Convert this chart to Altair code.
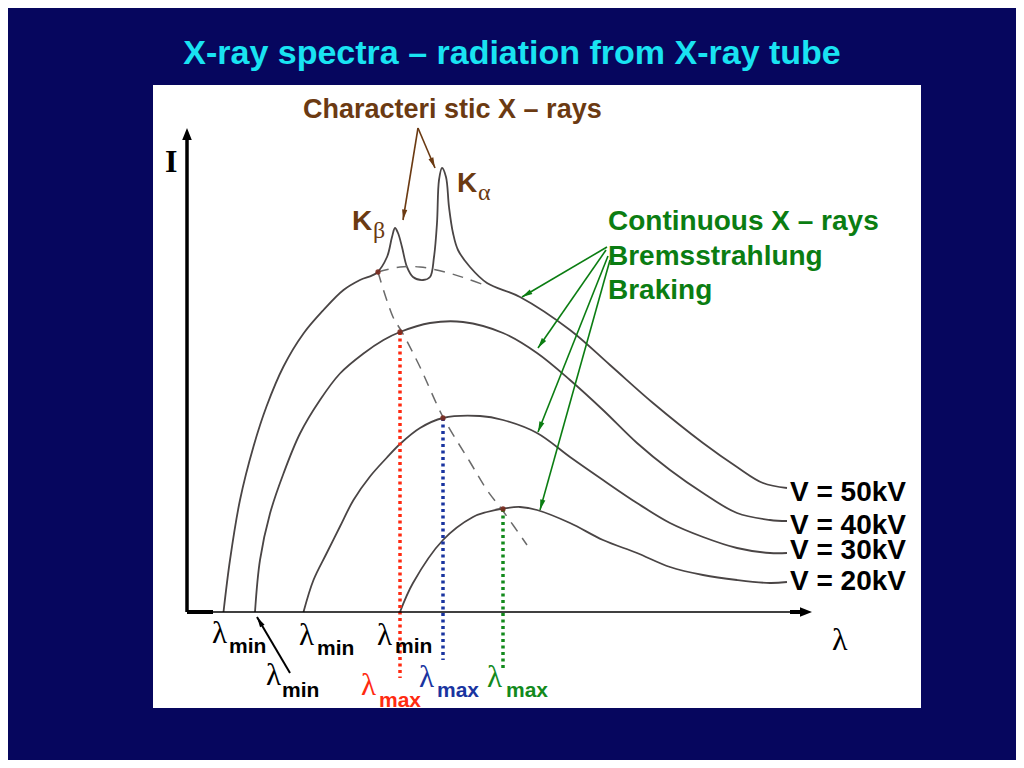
import math
import altair as alt
import pandas as pd

# ---------------- values (wavelength λ vs intensity I, arbitrary units) -------------
wl_50 = [7.3, 8.6, 10.6, 13.3, 15.9, 19.3, 23.3, 27.3, 31.3, 34.6, 37.9,
         40, 41, 41.6, 42.2, 43, 44, 45.2, 47.2, 48.6, 49.4,
         50, 50.4, 51, 51.8, 52.4, 53.2, 54.2, 56.6, 60,
         66.6, 76.6, 84.6, 93.2, 103.2, 110, 115.2, 120]
I_50 = [0, 10.4, 22.4, 33.1, 41.1, 49.1, 55.7, 60.4, 64.4, 66.4, 67.8,
        71, 75, 76.8, 75.8, 73, 69, 67, 66.4, 67, 71,
        77.8, 86.4, 88.8, 87, 81, 75.8, 72.4, 69, 65.8,
        63, 56.4, 49.4, 41.8, 33.8, 29, 25.8, 24.8]

wl_40 = [13.6, 14.6, 16.6, 19.3, 22.6, 26.6, 30.6, 35.3, 39.3, 42.6, 48.6, 55.2,
         63.2, 70, 76.6, 83.2, 90, 96.6, 103.2, 110, 116.6, 120]
I_40 = [0, 10.4, 19.7, 27.7, 35.7, 42.4, 47.7, 51.7, 54.4, 56, 57.8, 58,
        55.8, 51.8, 46.4, 40.4, 33.8, 28.4, 23.8, 19.8, 18.4, 18.2]

wl_30 = [23.3, 25.3, 27.9, 30.6, 33.3, 36.6, 39.9, 42.6, 46.6, 51.2, 58.6, 63.2,
         70, 76.6, 83.2, 90, 96.6, 103.2, 110, 116.6, 120]
I_30 = [0, 6.4, 11.7, 17.1, 22.4, 27.1, 30.8, 33.6, 36.8, 38.8, 39.2, 38.4,
        35.8, 31, 26.4, 21.8, 17.8, 15, 12.8, 11.8, 11.8]

wl_20 = [42.6, 45.2, 51.2, 57.2, 60, 63.2, 66.6, 70, 76.6, 83.2, 90, 96.6, 103.2, 110, 116.6, 120]
I_20 = [0, 5.8, 14.4, 19, 20, 20.7, 21, 20.4, 17.8, 14.4, 11.8, 9, 7.4, 6.4, 5.8, 6]

series_names = ["V = 50kV", "V = 40kV", "V = 30kV", "V = 20kV"]

# locus of the maxima and the continuum under the K lines (dashed)
locus_wl = [38.2, 41.2, 43, 46.6, 51.2, 56.6, 60, 63.2, 68]
locus_I = [68, 59, 56, 49, 39, 30, 24.4, 20.2, 13.4]
under_wl = [38.2, 42.6, 46.6, 51.6, 55.6, 60]
under_I = [68, 69, 69, 68, 66.8, 65.2]

# λmax positions and peak intensities (40, 30, 20 kV)
lmax_wl = [42.6, 51.2, 63.2]
lmax_I = [56, 38.8, 20.6]

# ---------------- layout / styles ----------------
XD = [-35.8, 165.8]
YD = [-29.6, 120.8]
BG = "#06065e"
CURVE = "#4a4545"
BROWN = "#6b3a12"
GREEN = "#0b7d12"
RED = "#ff2a10"
BLUE = "#1a34a0"
DGREEN = "#138a1c"
CYAN = "#19e3f2"
ARROW = "M0,0L-0.5,2L0.5,2Z"
BIGARROW = "M0,0L-0.8,2L0.8,2Z"

xs = alt.Scale(domain=XD, nice=False, zero=False)
ys = alt.Scale(domain=YD, nice=False, zero=False)


def enc(**kw):
    e = dict(x=alt.X("x:Q", scale=xs, axis=None), y=alt.Y("y:Q", scale=ys, axis=None))
    e.update(kw)
    return e


layers = []

# white panel
panel = pd.DataFrame({"x": [-6.8], "x2": [146.8], "y": [-19.2], "y2": [105.4]})
layers.append(alt.Chart(panel).mark_rect(color="white").encode(**enc(x2="x2", y2="y2")))

# spectra
rows = []
for name, wl, inten in zip(series_names, [wl_50, wl_40, wl_30, wl_20], [I_50, I_40, I_30, I_20]):
    for a, b in zip(wl, inten):
        rows.append({"s": name, "x": a, "y": b})
curves = pd.DataFrame(rows)
layers.append(alt.Chart(curves).mark_line(interpolate="catmull-rom", color=CURVE, strokeWidth=1.8)
              .encode(**enc(detail="s:N")))

# dashed lines
dash = pd.DataFrame([{"s": "locus", "x": a, "y": b} for a, b in zip(locus_wl, locus_I)] +
                    [{"s": "under", "x": a, "y": b} for a, b in zip(under_wl, under_I)])
layers.append(alt.Chart(dash).mark_line(interpolate="catmull-rom", color="#6a6a6a", strokeWidth=1.5,
                                        strokeDash=[11, 8]).encode(**enc(detail="s:N")))

# dotted λmax drops
drops = pd.DataFrame({"x": lmax_wl, "y": lmax_I, "y2": [-13.2, -9.6, -11.2], "c": [RED, BLUE, DGREEN]})
layers.append(alt.Chart(drops).mark_rule(strokeWidth=3.5, strokeDash=[3, 3.5])
              .encode(**enc(y2="y2", color=alt.Color("c:N", scale=None))))

# peak marks
pk = pd.DataFrame({"x": [38.2] + lmax_wl, "y": [68] + lmax_I})
layers.append(alt.Chart(pk).mark_circle(color="#7a2a1e", size=28, opacity=0.9).encode(**enc()))

# axes
ax = pd.DataFrame({"x": [0, 0, 0, 120.6], "x2": [0, 121, 5.2, 123.5], "y": [0, 0, 0, 0],
                   "y2": [95, 0, 0, 0], "w": [3.5, 1.4, 4, 4]})
layers.append(alt.Chart(ax).mark_rule(color="black")
              .encode(**enc(x2="x2", y2="y2", strokeWidth=alt.StrokeWidth("w:Q", scale=None))))
axh = pd.DataFrame({"x": [0, 125], "y": [96.8, 0], "ang": [0, 90]})
layers.append(alt.Chart(axh).mark_point(shape=BIGARROW, filled=True, size=144, color="black", opacity=1)
              .encode(**enc(angle=alt.Angle("ang:Q", scale=None))))


def arrows(starts, ends, color, width, size):
    r, h = [], []
    for (x1, y1), (x2, y2) in zip(starts, ends):
        r.append({"x": x1, "y": y1, "x2": x2, "y2": y2})
        h.append({"x": x2, "y": y2, "ang": math.degrees(math.atan2(x2 - x1, y2 - y1)) % 360})
    return [alt.Chart(pd.DataFrame(r)).mark_rule(color=color, strokeWidth=width).encode(**enc(x2="x2", y2="y2")),
            alt.Chart(pd.DataFrame(h)).mark_point(shape=ARROW, filled=True, size=size, color=color, opacity=1)
            .encode(**enc(angle=alt.Angle("ang:Q", scale=None)))]


layers += arrows([(46.2, 96.8), (46.2, 96.8)], [(43.2, 78.4), (49.6, 88.8)], BROWN, 1.6, 110)
layers += arrows([(84, 73), (83.8, 72.4), (84.2, 71.2), (84.6, 70.4)],
                 [(67, 63), (70.2, 52.8), (70.2, 36), (70.6, 20.4)], GREEN, 1.6, 110)
layers += arrows([(20.6, -12.2)], [(14, -1)], "black", 2, 110)

# sans-serif bold texts
sans = pd.DataFrame([
    {"t": "Characteri stic X – rays", "x": 23.2, "y": 98.8, "f": 27, "c": BROWN},
    {"t": "K", "x": 54, "y": 84, "f": 28, "c": BROWN},
    {"t": "K", "x": 33, "y": 76.4, "f": 28, "c": BROWN},
    {"t": "Continuous X – rays", "x": 84.2, "y": 76.4, "f": 28, "c": GREEN},
    {"t": "Bremsstrahlung", "x": 84.2, "y": 69.4, "f": 28, "c": GREEN},
    {"t": "Braking", "x": 84.2, "y": 62.6, "f": 28, "c": GREEN},
    {"t": series_names[0], "x": 120.6, "y": 22.2, "f": 28, "c": "black"},
    {"t": series_names[1], "x": 120.6, "y": 15.6, "f": 28, "c": "black"},
    {"t": series_names[2], "x": 120.6, "y": 10.6, "f": 28, "c": "black"},
    {"t": series_names[3], "x": 120.6, "y": 4.4, "f": 28, "c": "black"},
    {"t": "min", "x": 8.4, "y": -8.2, "f": 21, "c": "black"},
    {"t": "min", "x": 19, "y": -17, "f": 21, "c": "black"},
    {"t": "min", "x": 26, "y": -8.6, "f": 21, "c": "black"},
    {"t": "min", "x": 41.6, "y": -8.2, "f": 21, "c": "black"},
    {"t": "max", "x": 38.4, "y": -19, "f": 21, "c": RED},
    {"t": "max", "x": 50, "y": -17, "f": 21, "c": BLUE},
    {"t": "max", "x": 63.8, "y": -17, "f": 21, "c": DGREEN},
])
layers.append(alt.Chart(sans).mark_text(align="left", baseline="alphabetic", font="Liberation Sans",
                                        fontWeight="bold")
              .encode(**enc(text="t:N", size=alt.Size("f:Q", scale=None), color=alt.Color("c:N", scale=None))))

serif = pd.DataFrame([
    {"t": "λ", "x": 5.0, "y": -6.2, "f": 31, "c": "black"},
    {"t": "λ", "x": 15.8, "y": -14.6, "f": 31, "c": "black"},
    {"t": "λ", "x": 22.4, "y": -6.6, "f": 31, "c": "black"},
    {"t": "λ", "x": 38.0, "y": -6.6, "f": 31, "c": "black"},
    {"t": "λ", "x": 34.8, "y": -16.6, "f": 31, "c": RED},
    {"t": "λ", "x": 46.4, "y": -15, "f": 31, "c": BLUE},
    {"t": "λ", "x": 60.0, "y": -15, "f": 31, "c": DGREEN},
    {"t": "λ", "x": 129, "y": -7.6, "f": 32, "c": "black"},
    {"t": "α", "x": 58.2, "y": 82.4, "f": 24, "c": BROWN},
    {"t": "β", "x": 37.2, "y": 74.8, "f": 24, "c": BROWN},
])
layers.append(alt.Chart(serif).mark_text(align="left", baseline="alphabetic", font="Liberation Serif")
              .encode(**enc(text="t:N", size=alt.Size("f:Q", scale=None), color=alt.Color("c:N", scale=None))))

ilab = pd.DataFrame({"t": ["I"], "x": [-4.4], "y": [88]})
layers.append(alt.Chart(ilab).mark_text(align="left", baseline="alphabetic", font="Liberation Serif",
                                        fontWeight="bold", fontSize=32, color="black")
              .encode(**enc(text="t:N")))

title = pd.DataFrame({"t": ["X-ray spectra – radiation from X-ray tube"], "x": [65], "y": [109.6]})
layers.append(alt.Chart(title).mark_text(align="center", baseline="alphabetic", font="Liberation Sans",
                                         fontWeight="bold", fontSize=34, color=CYAN)
              .encode(**enc(text="t:N")))

chart = (alt.layer(*layers)
         .properties(width=1008, height=752, background=BG, padding=0,
                     autosize=alt.AutoSizeParams(type="none"))
         .configure_view(stroke=None))

chart.save("out.html", embed_options={"renderer": "svg", "actions": False})
